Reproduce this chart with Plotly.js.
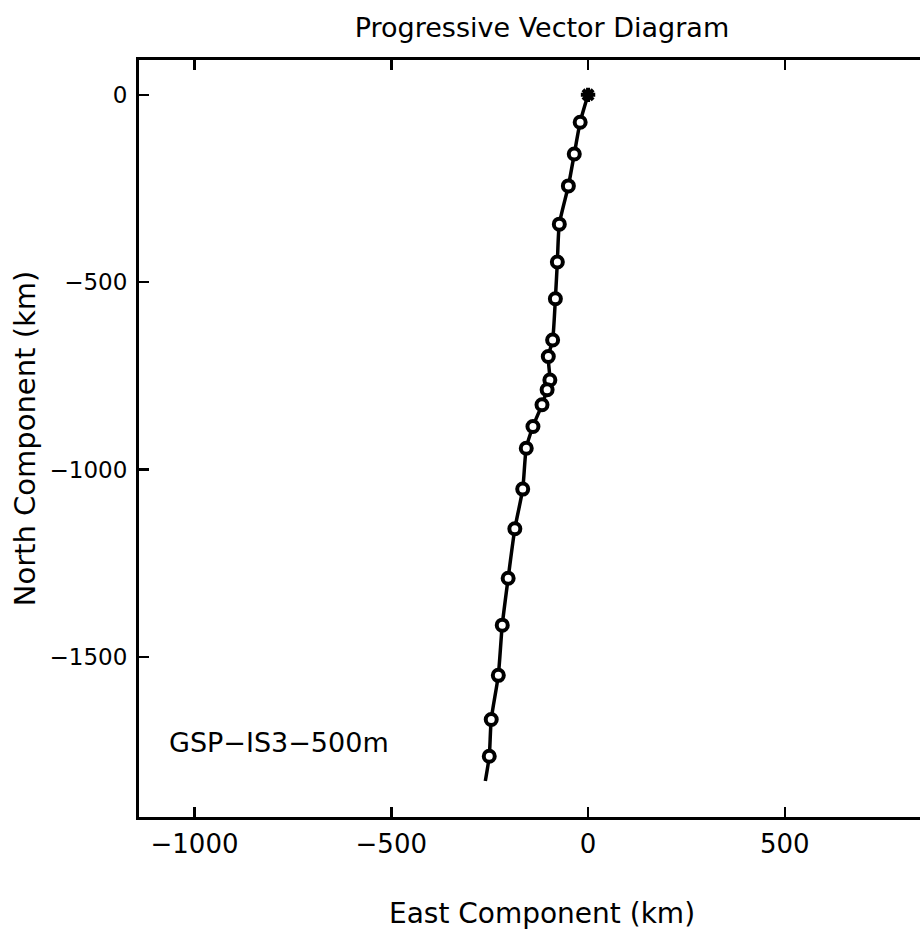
<!DOCTYPE html>
<html>
<head>
<meta charset="utf-8">
<script src="https://cdn.plot.ly/plotly-3.0.1.min.js"></script>
<style>
html, body { margin: 0; padding: 0; overflow: hidden; background: #fff; }
#chart { width: 960px; height: 931px; }
</style>
</head>
<body>
<div id="chart"></div>
<script>
// Progressive vector path (km)
const eastKm  = [0, -20, -35, -50, -73, -78, -83, -90, -101, -97, -104, -117, -140, -157, -166, -186, -203, -218, -228, -246, -251, -261];
const northKm = [0, -73, -158, -243, -345, -446, -544, -654, -698, -761, -787, -827, -885, -943, -1052, -1158, -1290, -1415, -1549, -1667, -1765, -1831];
// daily marker positions are path points 1..20
const markerEast  = eastKm.slice(1, 21);
const markerNorth = northKm.slice(1, 21);
const startEast = [eastKm[0]];
const startNorth = [northKm[0]];
const xTicks = [-1000, -500, 0, 500];
const yTicks = [0, -500, -1000, -1500];
const stationLabel = 'GSP\u2212IS3\u2212500m';

const FONT = 'DejaVu Sans, Arial, sans-serif';

const traces = [
  {
    x: eastKm, y: northKm, type: 'scatter', mode: 'lines',
    line: { color: '#000', width: 3.5, shape: 'spline', smoothing: 0.6 },
    hoverinfo: 'skip', showlegend: false
  },
  {
    x: markerEast, y: markerNorth, type: 'scatter', mode: 'markers',
    marker: { symbol: 'circle', size: 11, color: '#fff', line: { color: '#000', width: 4 } },
    showlegend: false
  },
  {
    x: startEast, y: startNorth, type: 'scatter', mode: 'markers',
    marker: { symbol: 'asterisk-open', size: 12, color: '#000', line: { color: '#000', width: 4 } },
    showlegend: false
  }
];

const layout = {
  width: 960, height: 931,
  margin: { l: 139, r: 15, t: 60, b: 114 },
  paper_bgcolor: '#fff', plot_bgcolor: '#fff',
  font: { family: FONT, color: '#000' },
  title: {
    text: 'Progressive Vector Diagram',
    font: { family: FONT, size: 27, color: '#000' },
    x: 0.5, xref: 'paper', xanchor: 'center',
    y: 1 - 28 / 931, yref: 'container', yanchor: 'middle'
  },
  xaxis: {
    range: [-1141, 907],
    tickvals: xTicks,
    ticktext: xTicks.map(v => v < 0 ? '\u2212' + Math.abs(v) : String(v)),
    ticks: 'inside', ticklen: 10, tickwidth: 2.5, tickcolor: '#000',
    showline: true, linecolor: '#000', linewidth: 3, mirror: 'ticks',
    showgrid: false, zeroline: false,
    tickfont: { family: FONT, size: 26, color: '#000' },
    ticklabelstandoff: 2,
    title: { text: 'East Component (km)', font: { family: FONT, size: 28, color: '#000' }, standoff: 46 }
  },
  yaxis: {
    range: [-1927, 93],
    tickvals: yTicks,
    ticktext: yTicks.map(v => v < 0 ? '\u2212' + Math.abs(v) : String(v)),
    ticks: 'inside', ticklen: 10, tickwidth: 2.5, tickcolor: '#000',
    showline: true, linecolor: '#000', linewidth: 3, mirror: 'ticks',
    showgrid: false, zeroline: false,
    tickfont: { family: FONT, size: 23, color: '#000' },
    ticklabelstandoff: 4,
    title: { text: 'North Component (km)', font: { family: FONT, size: 29, color: '#000' }, standoff: 6 }
  },
  annotations: [
    {
      text: stationLabel, x: -1070, y: -1727, xref: 'x', yref: 'y',
      xanchor: 'left', yanchor: 'middle', showarrow: false,
      font: { family: FONT, size: 27, color: '#000' }
    }
  ]
};

Plotly.newPlot('chart', traces, layout, { displayModeBar: false, staticPlot: true });
</script>
</body>
</html>
